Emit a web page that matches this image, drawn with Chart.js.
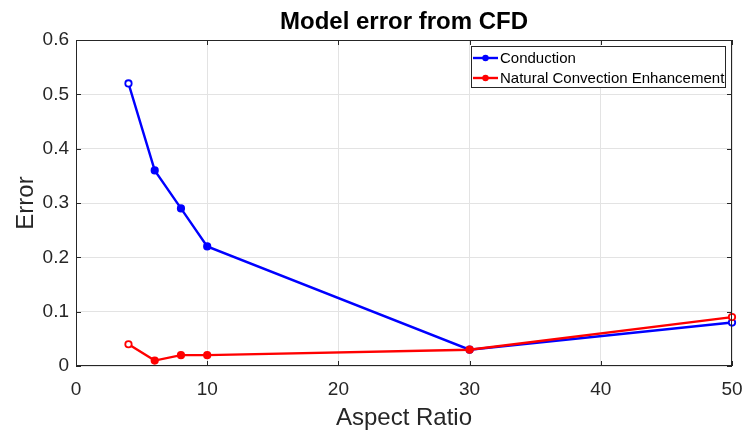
<!DOCTYPE html>
<html>
<head>
<meta charset="utf-8">
<script src="https://cdn.jsdelivr.net/npm/chart.js@4/dist/chart.umd.min.js"></script>
<style>
  html, body { margin: 0; padding: 0; background: #fff; }
  canvas { display: block; }
</style>
</head>
<body>
<canvas id="err-chart" width="744" height="430"></canvas>
<script>
const aspectRatio = [4, 6, 8, 10, 30, 50];
const conductionErr = [0.52, 0.36, 0.29, 0.22, 0.03, 0.08];
const convectionErr = [0.04, 0.01, 0.02, 0.02, 0.03, 0.09];
const xTicks = [0, 10, 20, 30, 40, 50];
const yTicks = [0, 0.1, 0.2, 0.3, 0.4, 0.5, 0.6];
const seriesNames = ['Conduction', 'Natural Convection Enhancement'];
const seriesColors = ['#0000ff', '#ff0000'];

const FONT = '"Liberation Sans", Arial, Helvetica, sans-serif';
const AXIS_COLOR = '#262626';

const toPoints = (ys) => aspectRatio.map((x, i) => ({ x, y: ys[i] }));
// end markers are drawn hollow, the rest filled
const faceColors = (color) => aspectRatio.map((_, i) => (i === 0 || i === aspectRatio.length - 1 ? '#ffffff' : color));

function makeDataset(i, ys, order) {
  return {
    label: seriesNames[i],
    data: toPoints(ys),
    borderColor: seriesColors[i],
    borderWidth: 2.4,
    pointRadius: 3.2,
    pointBorderWidth: 1.8,
    pointBorderColor: seriesColors[i],
    pointBackgroundColor: faceColors(seriesColors[i]),
    tension: 0,
    clip: false,
    order
  };
}

// box, inward ticks, titles and legend drawn on top like a MATLAB axes
const frame = {
  id: 'frame',
  afterDraw(chart) {
    const { ctx, chartArea: a, scales } = chart;
    ctx.save();

    ctx.strokeStyle = AXIS_COLOR;
    ctx.lineWidth = 1;
    ctx.strokeRect(Math.round(a.left) + 0.5, Math.round(a.top) + 0.5,
      Math.round(a.right - a.left) - 1, Math.round(a.bottom - a.top) - 1);

    const tl = 5;
    ctx.beginPath();
    xTicks.forEach((v) => {
      const px = Math.round(scales.x.getPixelForValue(v)) + 0.5;
      ctx.moveTo(px, a.bottom); ctx.lineTo(px, a.bottom - tl);
      ctx.moveTo(px, a.top); ctx.lineTo(px, a.top + tl);
    });
    yTicks.forEach((v) => {
      const py = Math.round(scales.y.getPixelForValue(v)) + 0.5;
      ctx.moveTo(a.left, py); ctx.lineTo(a.left + tl, py);
      ctx.moveTo(a.right, py); ctx.lineTo(a.right - tl, py);
    });
    ctx.stroke();

    ctx.fillStyle = '#000';
    ctx.textAlign = 'center';
    ctx.textBaseline = 'alphabetic';
    ctx.font = 'bold 24px ' + FONT;
    ctx.fillText('Model error from CFD', (a.left + a.right) / 2, 29);

    ctx.fillStyle = AXIS_COLOR;
    ctx.font = '24px ' + FONT;
    ctx.fillText('Aspect Ratio', (a.left + a.right) / 2, 425);
    ctx.save();
    ctx.translate(33, (a.top + a.bottom) / 2);
    ctx.rotate(-Math.PI / 2);
    ctx.fillText('Error', 0, 0);
    ctx.restore();

    // legend
    const lx = 471.5, ly = 46.5, lw = 254, lh = 41;
    ctx.fillStyle = '#fff';
    ctx.fillRect(lx, ly, lw, lh);
    ctx.strokeStyle = AXIS_COLOR;
    ctx.strokeRect(lx, ly, lw, lh);
    ctx.font = '15px ' + FONT;
    ctx.textAlign = 'left';
    ctx.textBaseline = 'middle';
    seriesNames.forEach((name, i) => {
      const y = 58 + i * 20;
      ctx.strokeStyle = seriesColors[i];
      ctx.lineWidth = 2.4;
      ctx.beginPath();
      ctx.moveTo(473, y); ctx.lineTo(498, y);
      ctx.stroke();
      ctx.fillStyle = seriesColors[i];
      ctx.beginPath();
      ctx.arc(485.5, y, 3.2, 0, Math.PI * 2);
      ctx.fill();
      ctx.fillStyle = '#000';
      ctx.fillText(name, 500, y + 1);
    });

    ctx.restore();
  }
};

new Chart(document.getElementById('err-chart'), {
  type: 'line',
  data: {
    datasets: [makeDataset(0, conductionErr, 1), makeDataset(1, convectionErr, 0)]
  },
  options: {
    responsive: false,
    animation: false,
    layout: { padding: { top: 40, right: 12, left: 0, bottom: 0 } },
    plugins: { legend: { display: false }, title: { display: false }, tooltip: { enabled: false } },
    scales: {
      x: {
        type: 'linear',
        min: 0,
        max: 50,
        afterBuildTicks: (s) => { s.ticks = xTicks.map((v) => ({ value: v })); },
        afterFit: (s) => { s.height = 64; s.paddingLeft = 0; s.paddingRight = 0; },
        grid: { color: '#e3e3e3', drawTicks: false },
        border: { display: false },
        ticks: { color: AXIS_COLOR, padding: 12, maxRotation: 0, font: { family: FONT, size: 19 } }
      },
      y: {
        min: 0,
        max: 0.6,
        afterBuildTicks: (s) => { s.ticks = yTicks.map((v) => ({ value: v })); },
        afterFit: (s) => { s.width = 76; s.paddingTop = 0; s.paddingBottom = 0; },
        grid: { color: '#e3e3e3', drawTicks: false },
        border: { display: false },
        ticks: { color: AXIS_COLOR, padding: 7, font: { family: FONT, size: 19 }, callback: (v) => String(+v.toFixed(1)) }
      }
    }
  },
  plugins: [frame]
});
</script>
</body>
</html>
